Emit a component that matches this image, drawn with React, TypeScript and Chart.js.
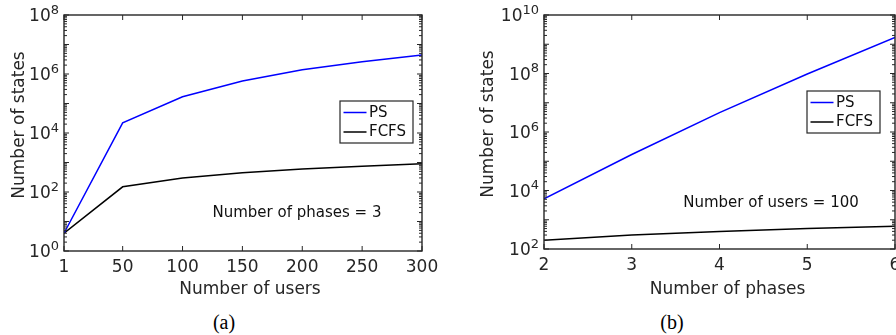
import React, { useEffect, useRef } from 'react';
import { Chart, registerables } from 'chart.js';

Chart.register(...registerables);

// ---------- data ----------
const seriesLabels = ['PS', 'FCFS'];
const seriesColors = ['#0000ff', '#000000'];

const users = [1, 50, 100, 150, 200, 250, 300];
const psByUsers = [4, 22000, 170000, 580000, 1400000, 2600000, 4400000];
const fcfsByUsers = [4, 150, 300, 450, 600, 750, 900];
const userTicks = [1, 50, 100, 150, 200, 250, 300];
const usersYExponents = [0, 2, 4, 6, 8];

const phases = [2, 3, 4, 5, 6];
const psByPhases = [5200, 170000, 4600000, 96000000, 1700000000];
const fcfsByPhases = [200, 300, 400, 500, 600];
const phaseTicks = [2, 3, 4, 5, 6];
const phasesYExponents = [2, 4, 6, 8, 10];

const captions = ['(a)', '(b)'];

// ---------- styles ----------
const FONT = 'DejaVu Sans';
const AXIS_COLOR = '#262626';
const TEXT_COLOR = '#111111';
const CANVAS_W = 448;
const CANVAS_H = 300;

type PanelCfg = {
  xValues: number[];
  ps: number[];
  fcfs: number[];
  xTicks: number[];
  yExps: number[];
  xTitle: string;
  yTitle: string;
  note: string;
  yAxisWidth: number;
  xAxisHeight: number;
  padRight: number;
  yTitlePad: number;
  xTitleShift: number;
  yTitleShift: number;
  legendBox: { x: number; y: number; w: number; h: number };
  notePos: { x: number; y: number };
};

const panels: PanelCfg[] = [
  {
    xValues: users,
    ps: psByUsers,
    fcfs: fcfsByUsers,
    xTicks: userTicks,
    yExps: usersYExponents,
    xTitle: 'Number of users',
    yTitle: 'Number of states',
    note: 'Number of phases = 3',
    yAxisWidth: 64,
    xAxisHeight: 49,
    padRight: 26,
    yTitlePad: 9,
    xTitleShift: 7,
    yTitleShift: -8,
    legendBox: { x: 340, y: 101, w: 73, h: 42 },
    notePos: { x: 297, y: 213 },
  },
  {
    xValues: phases,
    ps: psByPhases,
    fcfs: fcfsByPhases,
    xTicks: phaseTicks,
    yExps: phasesYExponents,
    xTitle: 'Number of phases',
    yTitle: 'Number of states',
    note: 'Number of users = 100',
    yAxisWidth: 96,
    xAxisHeight: 51,
    padRight: 1,
    yTitlePad: 30,
    xTitleShift: 8,
    yTitleShift: -8,
    legendBox: { x: 359, y: 91, w: 73, h: 42 },
    notePos: { x: 323, y: 203 },
  },
];

function shiftTitle(scale: any, dx: number, dy: number) {
  if (scale.__titleShifted) return;
  const orig = scale.drawTitle.bind(scale);
  scale.drawTitle = function () {
    const ctx = this.ctx;
    ctx.save();
    ctx.translate(dx, dy);
    orig();
    ctx.restore();
  };
  scale.__titleShifted = true;
}

function makeDecor(cfg: PanelCfg) {
  return {
    id: 'decor',
    afterDraw(chart: any) {
      const { ctx, chartArea: a, scales } = chart;
      const xs = scales.x;
      const ys = scales.y;
      ctx.save();
      // box
      ctx.strokeStyle = AXIS_COLOR;
      ctx.lineWidth = 1.4;
      ctx.strokeRect(a.left, a.top, a.right - a.left, a.bottom - a.top);

      // y ticks (inward, both sides)
      ctx.lineWidth = 1;
      const eMin = Math.round(Math.log10(ys.min));
      const eMax = Math.round(Math.log10(ys.max));
      ctx.beginPath();
      for (let e = eMin; e <= eMax; e++) {
        const base = Math.pow(10, e);
        const y = ys.getPixelForValue(base);
        ctx.moveTo(a.left, y);
        ctx.lineTo(a.left + 5, y);
        ctx.moveTo(a.right, y);
        ctx.lineTo(a.right - 5, y);
        if (e < eMax) {
          for (let m = 2; m <= 9; m++) {
            const ym = ys.getPixelForValue(m * base);
            ctx.moveTo(a.left, ym);
            ctx.lineTo(a.left + 3, ym);
            ctx.moveTo(a.right, ym);
            ctx.lineTo(a.right - 3, ym);
          }
        }
      }
      // x ticks (inward, top and bottom)
      for (const v of cfg.xTicks) {
        const x = xs.getPixelForValue(v);
        ctx.moveTo(x, a.bottom);
        ctx.lineTo(x, a.bottom - 5);
        ctx.moveTo(x, a.top);
        ctx.lineTo(x, a.top + 5);
      }
      ctx.stroke();

      // y tick labels 10^e
      ctx.fillStyle = AXIS_COLOR;
      ctx.textBaseline = 'middle';
      for (const e of cfg.yExps) {
        const y = ys.getPixelForValue(Math.pow(10, e));
        ctx.font = `13px "${FONT}"`;
        const ew = ctx.measureText(String(e)).width;
        const expRight = a.left - 5;
        ctx.textAlign = 'right';
        ctx.fillText(String(e), expRight, y - 4.5);
        ctx.font = `17px "${FONT}"`;
        ctx.fillText('10', expRight - ew, y + 2);
      }

      // legend
      const lb = cfg.legendBox;
      ctx.fillStyle = '#ffffff';
      ctx.fillRect(lb.x, lb.y, lb.w, lb.h);
      ctx.strokeStyle = AXIS_COLOR;
      ctx.lineWidth = 1.2;
      ctx.strokeRect(lb.x, lb.y, lb.w, lb.h);
      ctx.font = `15px "${FONT}"`;
      ctx.textAlign = 'left';
      chart.data.datasets.forEach((ds: any, i: number) => {
        const ry = lb.y + 11.5 + i * 19.5;
        ctx.strokeStyle = ds.borderColor;
        ctx.lineWidth = 1.5;
        ctx.beginPath();
        ctx.moveTo(lb.x + 3.5, ry);
        ctx.lineTo(lb.x + 26.5, ry);
        ctx.stroke();
        ctx.fillStyle = TEXT_COLOR;
        ctx.fillText(ds.label, lb.x + 29, ry + 0.5);
      });

      // annotation
      ctx.font = `15px "${FONT}"`;
      ctx.textAlign = 'center';
      ctx.fillStyle = TEXT_COLOR;
      ctx.fillText(cfg.note, cfg.notePos.x, cfg.notePos.y);
      ctx.restore();
    },
  };
}

function Panel({ cfg }: { cfg: PanelCfg }) {
  const ref = useRef<HTMLCanvasElement>(null);
  useEffect(() => {
    if (!ref.current) return;
    const ymin = Math.pow(10, cfg.yExps[0]);
    const ymax = Math.pow(10, cfg.yExps[cfg.yExps.length - 1]);
    const seriesData = [cfg.ps, cfg.fcfs];
    const chart = new Chart(ref.current, {
      type: 'line',
      data: {
        datasets: seriesData.map((vals, si) => ({
          label: seriesLabels[si],
          data: cfg.xValues.map((x, i) => ({ x, y: vals[i] })),
          borderColor: seriesColors[si],
          backgroundColor: seriesColors[si],
          borderWidth: 1.5,
          pointRadius: 0,
          tension: 0,
          fill: false,
        })),
      },
      options: {
        responsive: false,
        animation: false,
        maintainAspectRatio: false,
        layout: {
          autoPadding: false,
          padding: { top: 15, left: 0, right: cfg.padRight, bottom: 0 },
        },
        plugins: {
          legend: { display: false },
          tooltip: { enabled: false },
          title: { display: false },
        },
        scales: {
          x: {
            type: 'linear',
            min: cfg.xTicks[0],
            max: cfg.xTicks[cfg.xTicks.length - 1],
            grid: { display: false, drawTicks: false },
            border: { display: false },
            afterBuildTicks: (scale: any) => {
              scale.ticks = cfg.xTicks.map((v) => ({ value: v }));
            },
            afterFit: (scale: any) => {
              scale.height = cfg.xAxisHeight;
              scale.paddingLeft = 0;
              scale.paddingRight = 0;
              shiftTitle(scale, cfg.xTitleShift, 0);
            },
            ticks: {
              autoSkip: false,
              maxRotation: 0,
              padding: 6,
              color: AXIS_COLOR,
              font: { family: FONT, size: 17 },
              callback: (v: any) => String(v),
            },
            title: {
              display: true,
              text: cfg.xTitle,
              color: AXIS_COLOR,
              font: { family: FONT, size: 17 },
              padding: { top: 0, bottom: 0 },
            },
          },
          y: {
            type: 'logarithmic',
            min: ymin,
            max: ymax,
            grid: { display: false, drawTicks: false },
            border: { display: false },
            ticks: { display: false },
            afterFit: (scale: any) => {
              scale.width = cfg.yAxisWidth;
              scale.paddingTop = 0;
              scale.paddingBottom = 0;
              shiftTitle(scale, 0, cfg.yTitleShift);
            },
            title: {
              display: true,
              text: cfg.yTitle,
              color: AXIS_COLOR,
              font: { family: FONT, size: 17 },
              padding: { top: cfg.yTitlePad, bottom: 0 },
            },
          },
        },
      },
      plugins: [makeDecor(cfg)],
    } as any);
    return () => chart.destroy();
  }, [cfg]);
  return <canvas ref={ref} width={CANVAS_W} height={CANVAS_H} style={{ display: 'block', width: CANVAS_W, height: CANVAS_H }} />;
}

export default function App() {
  return (
    <div style={{ position: 'absolute', left: 0, top: 0, width: 896, height: 335, background: '#ffffff', overflow: 'hidden' }}>
      {panels.map((p, i) => (
        <div key={i} style={{ position: 'absolute', left: i * 448, top: 0, width: 448, height: 335 }}>
          <Panel cfg={p} />
          <div
            style={{
              position: 'absolute',
              left: 0,
              top: 310,
              width: 448,
              height: 24,
              lineHeight: '24px',
              textAlign: 'center',
              fontFamily: '"Liberation Serif", serif',
              fontSize: 20,
              color: '#000',
            }}
          >
            {captions[i]}
          </div>
        </div>
      ))}
    </div>
  );
}
